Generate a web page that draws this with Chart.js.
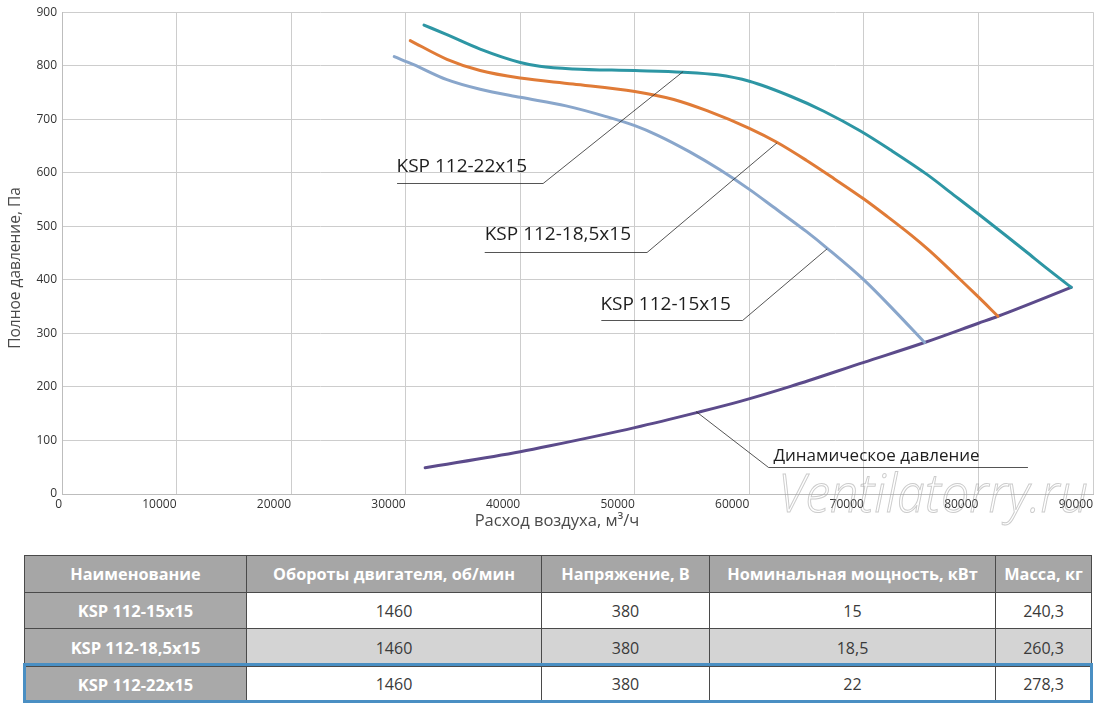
<!DOCTYPE html>
<html>
<head>
<meta charset="utf-8">
<script src="https://cdn.jsdelivr.net/npm/chart.js@4.4.1/dist/chart.umd.min.js"></script>
<style>
html,body{margin:0;padding:0;background:#fff;width:1100px;height:709px;overflow:hidden;font-family:"Open Sans",sans-serif;}
#wrap{position:absolute;left:0;top:0;width:1100px;height:540px;}
#tbl{position:absolute;left:24px;top:555px;border-collapse:collapse;table-layout:fixed;}
#tbl td,#tbl th{border:1px solid #4a4a4a;text-align:center;padding:0;font-size:16px;color:#3a3a3a;white-space:nowrap;}
#tbl th{background:#a6a6a6;color:#fff;font-weight:700;font-size:16.3px;}
#tbl td.name{background:#a9a9a9;color:#fff;font-weight:700;font-size:16.5px;}
#tbl tr.alt td{background:#d4d4d4;}
#tbl tr.alt td.name{background:#a9a9a9;}
#hl{position:absolute;left:23px;top:663px;width:1064px;height:34px;border:3px solid #4a8fc3;pointer-events:none;}
</style>
</head>
<body>
<div id="wrap"><canvas id="c" width="1100" height="540"></canvas></div>
<table id="tbl"></table>
<div id="hl"></div>
<script>
// ---------- data ----------
const xTicks = [0,10000,20000,30000,40000,50000,60000,70000,80000,90000];
const yTicks = [0,100,200,300,400,500,600,700,800,900];

const seriesNames = ['KSP 112-15x15','KSP 112-18,5x15','KSP 112-22x15','Динамическое давление'];

const flow15 = [29000,30700,33600,36500,40000,44000,47500,50000,52000,54800,57400,60000,62100,65000,66800,70000,72600,75300];
const pres15 = [817,802,774,756,741,725,705,688,670,639,606,569,536,490,459,400,344,283];

const flow185 = [30400,33600,36500,40000,44600,50000,53400,56300,60000,62400,65000,67400,70000,72000,74100,75700,77900,79900,81700];
const pres185 = [847,812,791,777,766,752,737,716,683,657,623,589,551,519,484,455,411,370,332];

const flow22 = [31600,33600,36500,40000,41700,44600,50000,54200,57200,60000,63600,66500,69700,72300,75500,78000,80000,82500,84200,86000,88100];
const pres22 = [876,858,831,806,799,794,791,788,783,771,743,715,678,643,597,556,523,481,452,421,386];

const flowDyn = [31700,40000,42600,50000,55400,59200,63600,70000,75300,80000,81700,88100];
const presDyn = [49,79,90,124,152,173,201,246,283,319,332,386];

const tableHeaders = ['Наименование','Обороты двигателя, об/мин','Напряжение, В','Номинальная мощность, кВт','Масса, кг'];
const models  = ['KSP 112-15x15','KSP 112-18,5x15','KSP 112-22x15'];
const rpm     = ['1460','1460','1460'];
const voltage = ['380','380','380'];
const power   = ['15','18,5','22'];
const mass    = ['240,3','260,3','278,3'];

// ---------- table ----------
(function(){
  const colW = [222,295,168,286,96];
  const rowH = [37,36,38,35];
  const t = document.getElementById('tbl');
  let h = '<colgroup>' + colW.map(w=>'<col style="width:'+w+'px">').join('') + '</colgroup>';
  h += '<tr style="height:'+rowH[0]+'px">' + tableHeaders.map(s=>'<th>'+s+'</th>').join('') + '</tr>';
  models.forEach((m,i)=>{
    h += '<tr class="'+(i===1?'alt':'')+'" style="height:'+rowH[i+1]+'px"><td class="name">'+m+'</td><td>'+rpm[i]+'</td><td>'+voltage[i]+'</td><td>'+power[i]+'</td><td>'+mass[i]+'</td></tr>';
  });
  t.innerHTML = h;
})();

// ---------- chart ----------
const pts = (xs,ys)=>xs.map((x,i)=>({x:x,y:ys[i]}));

const callouts = [
  {text: seriesNames[2], size: 19, tx: 29200, ty: 612, ly: 581, x0: 29250, x1: 42000, from: 'end',   ax: 54220, ay: 789},
  {text: seriesNames[1], size: 19, tx: 36900, ty: 484, ly: 452, x0: 36900, x1: 51070, from: 'end',   ax: 62420, ay: 656},
  {text: seriesNames[0], size: 19, tx: 47000, ty: 353, ly: 325, x0: 47080, x1: 59410, from: 'end',   ax: 66790, ay: 458},
  {text: seriesNames[3], size: 17, tx: 62100, ty: 71,  ly: 51,  x0: 61680, x1: 84320, from: 'start', ax: 55350, ay: 154}
];

const overlay = {
  id: 'overlay',
  afterDatasetsDraw(chart){
    const ctx = chart.ctx, xs = chart.scales.x, ys = chart.scales.y;
    ctx.save();
    callouts.forEach(c=>{
      const tx = xs.getPixelForValue(c.tx), ty = ys.getPixelForValue(c.ty);
      const ly = Math.round(ys.getPixelForValue(c.ly))+0.5;
      const x0 = xs.getPixelForValue(c.x0), x1 = xs.getPixelForValue(c.x1);
      const ax = xs.getPixelForValue(c.ax), ay = ys.getPixelForValue(c.ay);
      ctx.font = c.size + 'px "Open Sans"';
      ctx.fillStyle = '#1e1e1e';
      ctx.textBaseline = 'middle';
      ctx.textAlign = 'left';
      ctx.fillText(c.text, tx, ty);
      ctx.strokeStyle = '#2a2a2a';
      ctx.lineWidth = 0.8;
      ctx.beginPath();
      ctx.moveTo(x0, ly); ctx.lineTo(x1, ly);
      const sx = c.from === 'end' ? x1 : x0;
      ctx.moveTo(sx, ly); ctx.lineTo(ax, ay);
      ctx.stroke();
    });
    ctx.restore();
  },
  afterDraw(chart){
    const ctx = chart.ctx;
    ctx.save();
    ctx.fillStyle = '#4a4a4a';
    ctx.textAlign = 'center';
    ctx.textBaseline = 'middle';
    ctx.font = '16.5px "Open Sans"';
    ctx.fillText('Расход воздуха, м³/ч', 557, 521);
    ctx.font = '15.5px "Open Sans"';
    ctx.translate(16, 268);
    ctx.rotate(-Math.PI/2);
    ctx.fillText('Полное давление, Па', 0, 0);
    ctx.restore();
    // watermark
    ctx.save();
    ctx.font = 'italic 300 54px "Open Sans"';
    const w = ctx.measureText('Ventilatorry.ru').width;
    ctx.translate(778, 512);
    ctx.scale(310 / w, 1);
    ctx.strokeStyle = 'rgba(160,160,160,0.55)';
    ctx.lineWidth = 1;
    ctx.textBaseline = 'alphabetic';
    ctx.strokeText('Ventilatorry.ru', 0, 0);
    ctx.restore();
  }
};

const lineDs = (label, xs, ys, color)=>({
  label: label, data: pts(xs, ys), borderColor: color, backgroundColor: color,
  borderWidth: 3, pointRadius: 0, fill: false, cubicInterpolationMode: 'monotone',
  borderCapStyle: 'round', borderJoinStyle: 'round'
});

new Chart(document.getElementById('c'), {
  type: 'line',
  data: {
    datasets: [
      lineDs(seriesNames[0], flow15, pres15, '#89a6cb'),
      lineDs(seriesNames[1], flow185, pres185, '#e07b37'),
      lineDs(seriesNames[2], flow22, pres22, '#2d96a4'),
      lineDs(seriesNames[3], flowDyn, presDyn, '#5c4b8b')
    ]
  },
  options: {
    responsive: false,
    animation: false,
    devicePixelRatio: 1,
    layout: {padding: {top: 12, right: 7, left: 0, bottom: 0}},
    plugins: {legend: {display: false}, tooltip: {enabled: false}},
    scales: {
      x: {
        type: 'linear', min: 0, max: 90000,
        afterBuildTicks(s){ s.ticks = xTicks.map(v=>({value:v})); },
        afterFit(s){ s.height = 46; },
        grid: {color: '#cdcdcd', lineWidth: 1, drawTicks: false},
        border: {color: '#bdbdbd'},
        ticks: {align: 'end', padding: 3, maxRotation: 0, autoSkip: false,
                color: '#333', font: {family: 'Open Sans', size: 12},
                callback: v => String(v)}
      },
      y: {
        type: 'linear', min: 0, max: 900,
        afterBuildTicks(s){ s.ticks = yTicks.map(v=>({value:v})); },
        afterFit(s){ s.width = 62; },
        grid: {color: '#cdcdcd', lineWidth: 1, drawTicks: false},
        border: {color: '#bdbdbd'},
        ticks: {padding: 5, color: '#333', font: {family: 'Open Sans', size: 12},
                callback: v => String(v)}
      }
    }
  },
  plugins: [overlay]
});
</script>
</body>
</html>
